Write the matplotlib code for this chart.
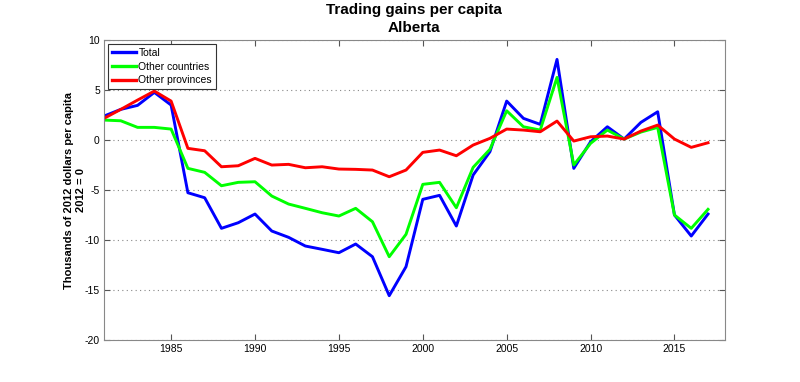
import matplotlib
matplotlib.use("Agg")
import matplotlib.pyplot as plt
import numpy as np

plt.rcParams["font.family"] = ["Liberation Sans", "DejaVu Sans"]
plt.rcParams["axes.unicode_minus"] = False

years = list(range(1981, 2018))

total = [2.4, 3.07, 3.47, 4.77, 3.5, -5.27, -5.77, -8.83, -8.27, -7.4,
         -9.1, -9.73, -10.6, -10.93, -11.27, -10.4, -11.67, -15.57, -12.67, -5.93,
         -5.53, -8.6, -3.5, -1.17, 3.9, 2.17, 1.57, 8.07, -2.83, -0.17,
         1.33, 0.1, 1.77, 2.83, -7.5, -9.6, -7.4]
other_countries = [2.0, 1.93, 1.27, 1.27, 1.1, -2.83, -3.23, -4.57, -4.23, -4.17,
                   -5.6, -6.4, -6.83, -7.27, -7.6, -6.83, -8.17, -11.67, -9.43, -4.43,
                   -4.23, -6.77, -2.73, -0.93, 2.93, 1.33, 1.0, 6.27, -2.5, -0.33,
                   1.0, 0.1, 0.8, 1.27, -7.5, -8.83, -6.93]
other_provinces = [2.17, 3.07, 4.0, 4.9, 3.9, -0.83, -1.07, -2.67, -2.57, -1.83,
                   -2.5, -2.43, -2.77, -2.67, -2.9, -2.93, -3.0, -3.67, -3.0, -1.23,
                   -1.0, -1.57, -0.5, 0.17, 1.1, 1.0, 0.83, 1.9, -0.1, 0.33,
                   0.4, 0.1, 0.9, 1.5, 0.1, -0.73, -0.27]

fig = plt.figure(figsize=(8, 3.82), dpi=100)
ax = fig.add_axes([0.13, 0.11, 0.776, 0.785])

ax.plot(years, total, color="#0000ff", lw=2.1, label="Total")
ax.plot(years, other_countries, color="#00ff00", lw=2.1, label="Other countries")
ax.plot(years, other_provinces, color="#ff0000", lw=2.1, label="Other provinces")

ax.set_xlim(1981, 2018)
ax.set_ylim(-20, 10)
ax.set_xticks(range(1985, 2016, 5))
ax.set_yticks(range(-20, 11, 5))
ax.tick_params(direction="in", top=True, right=True, labelsize=7.5, length=4,
               color="#555555", pad=3)
ax.yaxis.grid(True, linestyle=(0, (1, 3)), color="#888888", lw=0.8)
for s in ax.spines.values():
    s.set_color("#888888")

ax.set_title("Trading gains per capita\nAlberta", fontsize=11, fontweight="bold",
             linespacing=1.3, pad=6)
ax.set_ylabel("Thousands of 2012 dollars per capita\n2012 = 0", fontsize=8,
              fontweight="bold", linespacing=1.2, labelpad=-1)

leg = ax.legend(loc="upper left", fontsize=7.5, fancybox=False, framealpha=1,
                edgecolor="#333333", handlelength=2.3, borderaxespad=0.35,
                labelspacing=0.35, handletextpad=0.25, borderpad=0.4)
leg.get_frame().set_linewidth(0.8)
for line in leg.get_lines():
    line.set_linewidth(2.4)

fig.savefig("out.png", dpi=100)
